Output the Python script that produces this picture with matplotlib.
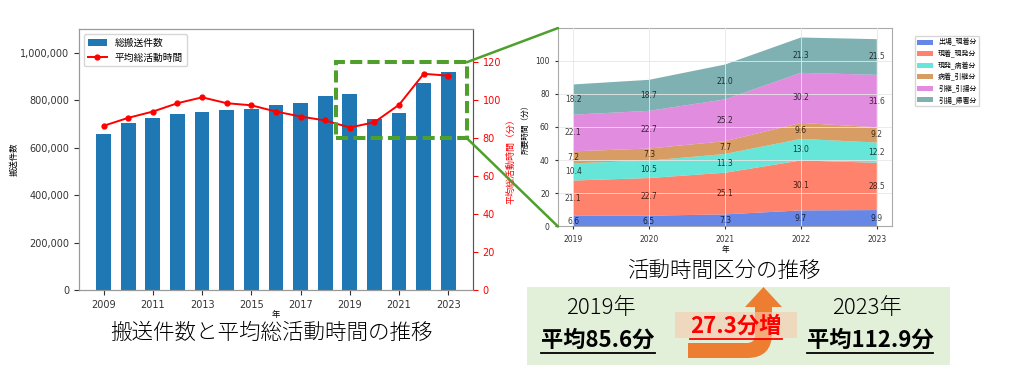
import matplotlib
matplotlib.use("Agg")
import matplotlib.pyplot as plt
import matplotlib.patches as mpatches
from matplotlib.path import Path
from matplotlib.patches import ConnectionPatch
from matplotlib.lines import Line2D
from matplotlib.ticker import FuncFormatter

plt.rcParams['font.family'] = ['DejaVu Sans', 'Noto Sans CJK JP']

# --- data: left chart ---
years = list(range(2009, 2024))
transports = [657000, 702000, 726000, 743000, 750000, 759000, 763000, 778000,
              786000, 819000, 827000, 721000, 744000, 873000, 918000]
avg_time = [86.5, 90.7, 94.0, 98.4, 101.5, 98.4, 97.3, 94.0,
            91.4, 89.3, 85.6, 88.4, 97.6, 113.9, 112.9]
year_ticks = [2009, 2011, 2013, 2015, 2017, 2019, 2021, 2023]

# --- data: right chart (stacked segments) ---
seg_years = [2019, 2020, 2021, 2022, 2023]
seg_names = ['出場_現着分', '現着_現発分', '現発_病着分', '病着_引継分', '引継_引揚分', '引揚_帰署分']
seg_dispatch = [6.6, 6.5, 7.3, 9.7, 9.9]
seg_onsite = [21.1, 22.7, 25.1, 30.1, 28.5]
seg_transit = [10.4, 10.5, 11.3, 13.0, 12.2]
seg_handover = [7.2, 7.3, 7.7, 9.6, 9.2]
seg_withdraw = [22.1, 22.7, 25.2, 30.2, 31.6]
seg_return = [18.2, 18.7, 21.0, 21.3, 21.5]
seg_colors = ['royalblue', 'tomato', 'turquoise', 'peru', 'orchid', 'cadetblue']

# --- summary panel ---
start_label, start_avg = '2019年', 85.6
end_label, end_avg = '2023年', 112.9

green = '#4E9F2C'

fig = plt.figure(figsize=(10.18, 3.78), dpi=100, facecolor='white')

# ---------- left chart ----------
ax = fig.add_axes([0.0776, 0.2328, 0.387, 0.6905])
ax.bar(years, transports, width=0.6, color='#1f77b4', label='総搬送件数')
ax.set_xlim(2008, 2024)
ax.set_ylim(0, 1100000)
ax.set_xticks(year_ticks)
ax.yaxis.set_major_formatter(FuncFormatter(lambda v, p: f'{v:,.0f}'))
ax.tick_params(labelsize=7, colors='#333333')
ax.set_xlabel('年', fontsize=6, labelpad=0)
ax.set_ylabel('搬送件数', fontsize=6, labelpad=1)
for s in ax.spines.values():
    s.set_color('#999999')

ax2 = ax.twinx()
ln, = ax2.plot(years, avg_time, color='red', marker='o', markersize=3.5,
               linewidth=1.4, label='平均総活動時間')
ax2.set_ylim(0, 137.5)
ax2.set_yticks([0, 20, 40, 60, 80, 100, 120])
ax2.tick_params(labelsize=7, colors='red')
ax2.set_ylabel('平均総活動時間（分）', color='red', fontsize=6.5)
for s in ax2.spines.values():
    s.set_color('#999999')
ax2.spines['right'].set_color('#555555')

h1, l1 = ax.get_legend_handles_labels()
ax.legend(h1 + [ln], l1 + [ln.get_label()], loc='upper left', fontsize=7)

rect = mpatches.Rectangle((2018.45, 80), 5.3, 40, fill=False, edgecolor=green,
                          linewidth=2.9, linestyle=(0, (3, 1.3)), zorder=5)
ax2.add_patch(rect)

# ---------- right chart ----------
axr = fig.add_axes([0.5481, 0.4008, 0.3281, 0.525])
segs = [seg_dispatch, seg_onsite, seg_transit, seg_handover, seg_withdraw, seg_return]
polys = axr.stackplot(seg_years, *segs, labels=seg_names, colors=seg_colors, alpha=0.8)
axr.set_xticks(seg_years)
axr.set_yticks([0, 20, 40, 60, 80, 100])
axr.tick_params(labelsize=5.5, colors='#333333', length=2.5)
axr.set_xlabel('年', fontsize=5.5, labelpad=1)
axr.set_ylabel('所要時間（分）', fontsize=5.5)
axr.grid(color='#e6e6e6', linewidth=0.6)
axr.set_axisbelow(False)
for s in axr.spines.values():
    s.set_color('#aaaaaa')
for i, yr in enumerate(seg_years):
    base = 0
    for vals in segs:
        axr.text(yr, base + vals[i] / 2, f'{vals[i]:.1f}', ha='center', va='center',
                 fontsize=5.5, color='black', alpha=0.75)
        base += vals[i]
fig.legend(polys, seg_names, loc='upper left', bbox_to_anchor=(0.895, 0.915),
           fontsize=5, frameon=True, handlelength=2.2)

con_top = ConnectionPatch(xyA=(2023.75, 120), coordsA=ax2.transData,
                          xyB=(0, 1), coordsB=axr.transAxes, color=green, linewidth=1.8)
con_bot = ConnectionPatch(xyA=(2023.75, 80), coordsA=ax2.transData,
                          xyB=(0, 0), coordsB=axr.transAxes, color=green, linewidth=1.8)
fig.add_artist(con_top)
fig.add_artist(con_bot)

# ---------- overlay in pixel coordinates ----------
ov = fig.add_axes([0, 0, 1, 1])
ov.set_xlim(0, 1018)
ov.set_ylim(378, 0)
ov.axis('off')
ov.patch.set_visible(False)

jp = 'Noto Sans CJK JP'
ov.text(272, 333, '搬送件数と平均総活動時間の推移', ha='center', va='center',
        fontsize=15.5, family=jp, fontweight='light')
ov.text(724, 271, '活動時間区分の推移', ha='center', va='center', fontsize=15.5,
        family=jp, fontweight='light')

ov.add_patch(mpatches.Rectangle((527, 287), 423, 78, facecolor='#E2F0D9', edgecolor='none'))

V = [(688, 343), (747, 343), (755, 343), (755, 335), (755, 307), (745, 307),
     (763.5, 287), (782, 307), (772, 307), (772, 333), (772, 358), (747, 358),
     (688, 358), (688, 343)]
C = [Path.MOVETO, Path.LINETO, Path.CURVE3, Path.CURVE3, Path.LINETO, Path.LINETO,
     Path.LINETO, Path.LINETO, Path.LINETO, Path.LINETO, Path.CURVE3, Path.CURVE3,
     Path.LINETO, Path.CLOSEPOLY]
ov.add_patch(mpatches.PathPatch(Path(V, C), facecolor='#ED7D31', edgecolor='none'))
ov.add_patch(mpatches.Rectangle((675, 312), 122, 26, facecolor='#F8CBAD',
                                edgecolor='none', alpha=0.6))

ov.text(601, 308, start_label, ha='center', va='center', fontsize=16, family=jp,
        fontweight='light')
ov.text(867, 308, end_label, ha='center', va='center', fontsize=16, family=jp,
        fontweight='light')
t1 = ov.text(598, 340, f'平均{start_avg:.1f}分', ha='center', va='center',
             fontsize=16, fontweight='bold', family=jp)
t2 = ov.text(870, 340, f'平均{end_avg:.1f}分', ha='center', va='center',
             fontsize=16, fontweight='bold', family=jp)
t3 = ov.text(736, 326, f'{end_avg - start_avg:.1f}分増', ha='center', va='center',
             fontsize=16, fontweight='bold', color='red', family=jp)

# underlines under the bold texts
fig.canvas.draw()
r = fig.canvas.get_renderer()
for t in (t1, t2, t3):
    bb = t.get_window_extent(r).transformed(fig.transFigure.inverted())
    fig.add_artist(Line2D([bb.x0, bb.x1], [bb.y0 - 0.004, bb.y0 - 0.004],
                          transform=fig.transFigure, color=t.get_color(), linewidth=1.3))

fig.savefig('out.png', dpi=100)
